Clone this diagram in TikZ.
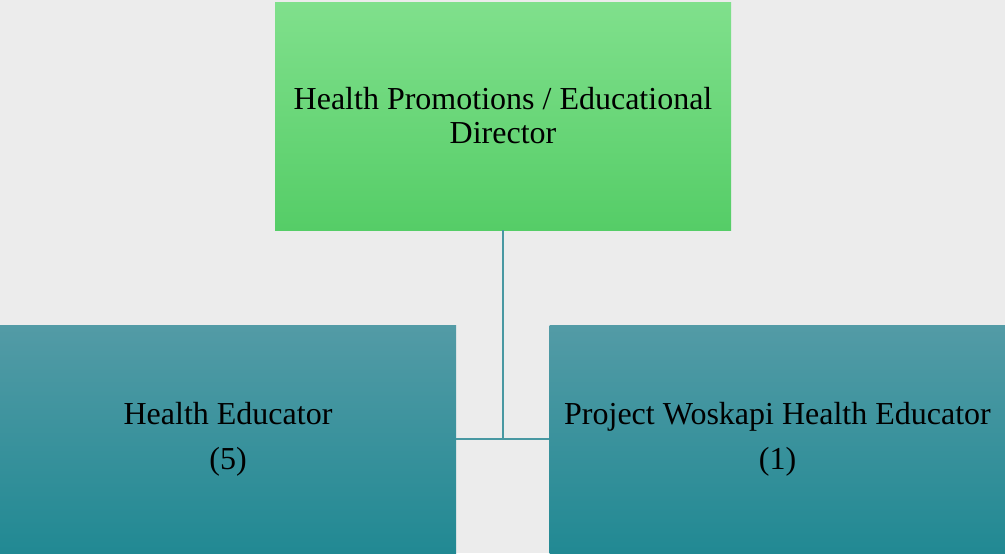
\documentclass[tikz,border=0pt]{standalone}
\usepackage{fontspec}
\setmainfont{Liberation Serif}
\usepackage{xcolor}
\usepackage{tikz}
\usetikzlibrary{calc}

\begin{document}
\begin{tikzpicture}[x=0.75pt,y=-0.75pt]
    % Define colors
    \definecolor{wall}{RGB}{236,236,236}
    \definecolor{headtop}{RGB}{128,224,140}
    \definecolor{headbot}{RGB}{85,205,103}
    \definecolor{teamtop}{RGB}{83,155,166}
    \definecolor{teambot}{RGB}{33,137,147}
    \definecolor{linkcol}{RGB}{72,152,162}
    \tikzset{
        headbox/.style={rectangle, top color=headtop, bottom color=headbot,
            minimum width=456*0.75pt, minimum height=228*0.75pt, inner sep=0pt,
            align=center, font=\fontsize{24}{25.5}\selectfont},
        teambox/.style={rectangle, top color=teamtop, bottom color=teambot,
            minimum width=456*0.75pt, minimum height=228*0.75pt, inner sep=0pt,
            align=center, font=\fontsize{24}{25.5}\selectfont},
        link/.style={draw=linkcol, line width=1.5pt}
    }

    % Background
    \fill[wall] (0,0) rectangle (1005,553);
    \useasboundingbox (0,0) rectangle (1005,553);

    % Director
    \node[headbox] (director) at (503,116) {Health Promotions / Educational\\Director};

    % Educators
    \node[teambox] (educator) at (228,439) {Health Educator\\[8pt](5)};
    \node[teambox] (woskapi) at (777.5,439) {Project Woskapi Health Educator\\[8pt](1)};

    % Connectors
    \draw[link] (educator.east) -- (woskapi.west);
    \draw[link] (director.south) -- (director.south |- educator.east);

\end{tikzpicture}
\end{document}
